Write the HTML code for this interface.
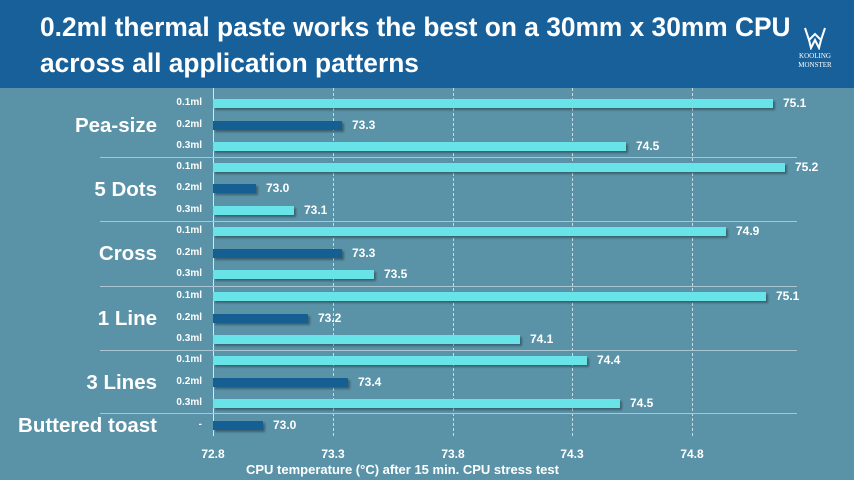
<!DOCTYPE html><html><head><style>
body{margin:0;width:854px;height:480px;overflow:hidden;background:#5a93a8;font-family:"Liberation Sans",sans-serif;position:relative}
.hdr{position:absolute;left:0;top:0;width:854px;height:88px;background:#17609a}
.t{position:absolute;left:40px;color:#fff;font-weight:bold;font-size:27px;white-space:nowrap;transform-origin:0 0;transform:scaleX(0.975)}
.lbl{position:absolute;color:#fff;font-weight:bold;font-size:20.5px;white-space:nowrap;right:697px;text-align:right}
.ml{position:absolute;color:#fff;font-weight:bold;font-size:10px;right:652px;text-align:right}
.v{position:absolute;color:#fff;font-weight:bold;font-size:12px}
.bar{position:absolute;left:213px;height:9px;box-shadow:2px 2px 2px rgba(0,0,0,.35)}
.c{background:#68e4e8}.d{background:#155f92}
.sep{position:absolute;left:100px;width:697px;height:1px;background:#a9c6d2}
.g{position:absolute;top:88px;height:348px;border-left:1px dashed #c9dce4}
.tk{position:absolute;top:447px;color:#fff;font-weight:bold;font-size:12px;transform:translateX(-50%)}
</style></head><body>
<div class="hdr"></div>
<div class="t" style="top:12px">0.2ml thermal paste works the best on a 30mm x 30mm CPU</div>
<div class="t" style="top:48px">across all application patterns</div>
<svg style="position:absolute;left:803px;top:26px" width="24" height="24"><path d="M2 2 L6 14 L12 8 L18 14 L22 2 M6 14 L8 22 L12 14 L16 22 L18 14" stroke="#fff" fill="none" stroke-width="2"/></svg>
<div style="position:absolute;left:791px;top:52px;width:48px;color:#fff;font-family:'Liberation Serif',serif;font-size:7px;text-align:center;line-height:9px">KOOLING<br>MONSTER</div>
<div class="g" style="left:333px"></div><div class="g" style="left:453px"></div><div class="g" style="left:572px"></div><div class="g" style="left:692px"></div>
<div style="position:absolute;left:213px;top:88px;width:1px;height:348px;background:#d8e6ec"></div>
<div class="sep" style="top:157px"></div><div class="sep" style="top:221px"></div><div class="sep" style="top:286px"></div><div class="sep" style="top:350px"></div><div class="sep" style="top:413px"></div>
<div class="lbl" style="top:114px">Pea-size</div>
<div class="lbl" style="top:178px">5 Dots</div>
<div class="lbl" style="top:242px">Cross</div>
<div class="lbl" style="top:307px">1 Line</div>
<div class="lbl" style="top:371px">3 Lines</div>
<div class="lbl" style="top:414px">Buttered toast</div>
<div id="bars"></div>
<script>
var d=[[103,773,'c','0.1ml','75.1'],[125,342,'d','0.2ml','73.3'],[146,626,'c','0.3ml','74.5'],
[167,785,'c','0.1ml','75.2'],[188,256,'d','0.2ml','73.0'],[210,294,'c','0.3ml','73.1'],
[231,726,'c','0.1ml','74.9'],[253,342,'d','0.2ml','73.3'],[274,374,'c','0.3ml','73.5'],
[296,766,'c','0.1ml','75.1'],[318,308,'d','0.2ml','73.2'],[339,520,'c','0.3ml','74.1'],
[360,587,'c','0.1ml','74.4'],[382,348,'d','0.2ml','73.4'],[403,620,'c','0.3ml','74.5'],
[425,263,'d','-','73.0']];
var h='';d.forEach(function(r){h+='<div class="bar '+r[2]+'" style="top:'+(r[0]-4)+'px;width:'+(r[1]-213)+'px"></div>'+
'<div class="ml" style="top:'+(r[0]-6)+'px">'+r[3]+'</div><div class="v" style="left:'+(r[1]+10)+'px;top:'+(r[0]-7)+'px">'+r[4]+'</div>';});
document.getElementById('bars').innerHTML=h;
</script>
<div class="tk" style="left:213px">72.8</div><div class="tk" style="left:333px">73.3</div><div class="tk" style="left:453px">73.8</div><div class="tk" style="left:572px">74.3</div><div class="tk" style="left:692px">74.8</div>
<div style="position:absolute;left:246px;top:462px;color:#fff;font-weight:bold;font-size:13px;white-space:nowrap">CPU temperature (°C) after 15 min. CPU stress test</div>
</body></html>
